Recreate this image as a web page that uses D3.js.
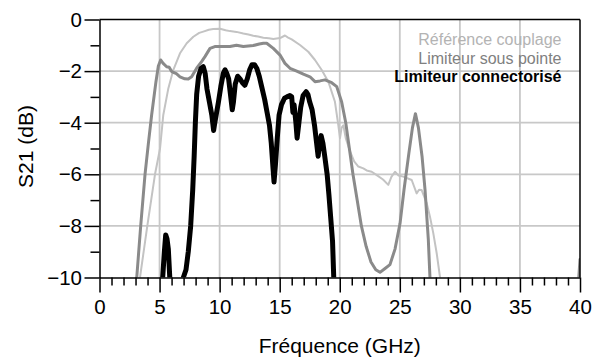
<!DOCTYPE html>
<html>
<head>
<meta charset="utf-8">
<script src="https://cdn.jsdelivr.net/npm/d3@7"></script>
<style>
  body { margin: 0; background: #fff; }
  svg { display: block; font-family: "Liberation Sans", Arial, sans-serif; }
</style>
</head>
<body>
<div id="chart"></div>
<script>
// tick values
let xMajor = [0, 5, 10, 15, 20, 25, 30, 35, 40];
let yMajor = [0, -2, -4, -6, -8, -10];
let legendLabels = ["Référence couplage", "Limiteur sous pointe", "Limiteur connectorisé"];

// [GHz, dB] ; null splits a trace
let refCouplage = [
  [3.37,-10],[3.98,-8],[4.62,-6],[5.04,-5],[5.31,-3.7],[5.73,-2.67],[6.14,-1.96],[6.7,-1.31],
  [7.26,-0.92],[7.81,-0.67],[8.3,-0.52],[8.64,-0.47],[9.1,-0.4],[9.47,-0.37],[10.03,-0.36],
  [10.5,-0.42],[10.86,-0.45],[11.4,-0.48],[11.97,-0.54],[12.4,-0.58],[12.8,-0.63],[13.2,-0.66],
  [13.64,-0.71],[14.1,-0.73],[14.47,-0.76],[15.03,-0.72],[15.44,-0.62],[15.7,-0.7],[16.0,-0.77],
  [16.69,-0.99],[17.38,-1.25],[17.94,-1.57],[18.5,-1.96],[19.05,-2.41],[19.6,-3.19],[19.88,-4.09],
  [20.02,-4.6],[20.15,-4.2],[20.3,-4.1],[20.5,-4.6],[20.85,-5.1],[21.2,-5.5],[21.55,-5.7],
  [21.96,-5.77],[22.24,-5.85],[22.66,-5.9],[23.08,-6.03],[23.6,-6.2],[24.04,-6.41],[24.3,-6.1],
  [24.6,-5.9],[24.9,-6.05],[25.29,-6.09],[25.99,-6.22],[26.4,-6.74],[26.6,-6.6],[26.82,-6.61],
  [27.24,-7.12],[27.51,-7.64],[27.79,-8.29],[28.07,-9.06],[28.35,-10]
];

let sousPointe = [
  [3.1,-10],[3.43,-8],[3.79,-6],[4.07,-4.8],[4.34,-3.7],[4.7,-2.41],[4.9,-1.8],[5.09,-1.57],
  [5.3,-1.7],[5.59,-1.83],[5.8,-1.85],[6.01,-2.02],[6.4,-2.1],[6.7,-2.22],[7.1,-2.3],[7.39,-2.31],
  [7.67,-2.22],[8.09,-1.89],[8.5,-1.63],[8.78,-1.44],[9.2,-1.12],[9.6,-1.05],[10.03,-1.05],
  [10.86,-1.05],[11.4,-1.0],[11.97,-1.05],[12.8,-1.01],[13.3,-0.95],[13.64,-0.92],[13.92,-0.92],
  [14.47,-1.12],[15.03,-1.38],[15.44,-1.7],[15.86,-1.89],[16.42,-2.0],[16.97,-2.12],[17.52,-2.22],
  [17.94,-2.41],[18.36,-2.38],[18.77,-2.34],[19.33,-2.45],[19.75,-2.6],[20.16,-3.2],[20.5,-4.0],
  [20.8,-5.0],[21.1,-6.0],[21.45,-7.0],[21.8,-8.0],[22.2,-8.8],[22.6,-9.4],[23.0,-9.7],
  [23.35,-9.8],[23.77,-9.65],[24.18,-9.5],[24.6,-8.9],[25.02,-7.9],[25.35,-6.6],[25.75,-5.2],
  [26.05,-4.2],[26.3,-3.65],[26.55,-4.2],[26.85,-5.3],[27.1,-6.6],[27.37,-8.5],[27.51,-10],
  null,
  [39.9,-10],[40,-9.3]
];

let connectorise = [
  [5.26,-10],[5.4,-9.0],[5.51,-8.35],[5.62,-8.5],[5.73,-8.9],[5.85,-10],
  null,
  [6.98,-10],[7.2,-9.7],[7.39,-9.0],[7.59,-8.0],[7.76,-6.6],[7.88,-5.3],[7.98,-4.0],[8.09,-2.9],
  [8.25,-2.2],[8.45,-1.9],[8.64,-1.83],[8.8,-2.1],[8.95,-2.7],[9.15,-3.2],[9.35,-3.7],[9.5,-4.3],
  [9.6,-4.0],[9.75,-3.6],[9.9,-3.2],[10.1,-2.6],[10.3,-2.1],[10.45,-1.95],[10.6,-2.1],[10.75,-2.3],
  [10.9,-2.9],[11.05,-3.5],[11.15,-3.2],[11.3,-2.5],[11.5,-2.2],[11.7,-2.3],[11.9,-2.45],
  [12.1,-2.55],[12.3,-2.3],[12.5,-1.95],[12.7,-1.75],[12.9,-1.75],[13.1,-1.9],[13.3,-2.2],
  [13.5,-2.6],[13.75,-3.1],[13.95,-3.6],[14.15,-4.1],[14.3,-4.8],[14.45,-5.8],[14.53,-6.3],
  [14.65,-5.6],[14.8,-4.6],[14.95,-3.7],[15.15,-3.3],[15.4,-3.05],[15.6,-3.0],[15.85,-2.95],
  [16.0,-3.0],[16.1,-3.6],[16.2,-3.3],[16.35,-4.0],[16.45,-4.6],[16.6,-4.0],[16.75,-3.4],
  [16.95,-2.95],[17.2,-2.8],[17.35,-2.9],[17.5,-3.2],[17.7,-3.5],[17.9,-4.1],[18.05,-4.7],
  [18.2,-5.3],[18.3,-4.9],[18.45,-4.5],[18.6,-4.8],[18.75,-5.3],[18.95,-6.0],[19.1,-6.8],
  [19.25,-7.7],[19.4,-8.6],[19.5,-10]
];

let seriesColors = ["#c3c3c3", "#8a8a8a", "#000000"];

function init() {
    let width = 592, height = 359;
    let left = 99.5, right = 580, top = 19.5, bottom = 277.5;

    let svg = d3.select("#chart").append("svg")
        .attr("width", width)
        .attr("height", height);

    let x = d3.scaleLinear().domain([0, 40]).range([left, right]);
    let y = d3.scaleLinear().domain([-10, 0]).range([bottom, top]);

    // grid
    svg.append("g").selectAll("line")
        .data(xMajor.filter(d => d > 0 && d < 40))
        .join("line")
        .attr("x1", d => x(d)).attr("x2", d => x(d))
        .attr("y1", top).attr("y2", bottom)
        .attr("stroke", "#c8c8c8").attr("stroke-width", 1.8);
    svg.append("g").selectAll("line")
        .data(yMajor.filter(d => d > -10 && d < 0))
        .join("line")
        .attr("x1", left).attr("x2", right)
        .attr("y1", d => y(d)).attr("y2", d => y(d))
        .attr("stroke", "#c8c8c8").attr("stroke-width", 1.8);

    // curves
    svg.append("clipPath").attr("id", "clip")
        .append("rect")
        .attr("x", left).attr("y", top - 2)
        .attr("width", right - left).attr("height", bottom - top + 2);

    let line = d3.line()
        .defined(d => d != null)
        .x(d => x(d[0]))
        .y(d => y(d[1]));

    let traces = [refCouplage, sousPointe, connectorise];
    let widths = [2, 3, 5];
    svg.append("g").attr("clip-path", "url(#clip)")
        .selectAll("path")
        .data(traces)
        .join("path")
        .attr("d", line)
        .attr("fill", "none")
        .attr("stroke", (_, i) => seriesColors[i])
        .attr("stroke-width", (_, i) => widths[i])
        .attr("stroke-linejoin", "round")
        .attr("stroke-linecap", "round");

    // frame top/right
    svg.append("line").attr("x1", left).attr("x2", right).attr("y1", top).attr("y2", top)
        .attr("stroke", "#000").attr("stroke-width", 1.5);
    svg.append("line").attr("x1", right).attr("x2", right).attr("y1", top).attr("y2", bottom)
        .attr("stroke", "#000").attr("stroke-width", 1.5);

    // minor ticks
    let xAxisMinor = d3.axisBottom(x).tickValues(d3.range(0, 41).filter(d => d % 5 != 0))
        .tickSize(8).tickFormat("");
    svg.append("g").attr("transform", `translate(0,${bottom})`).call(xAxisMinor)
        .call(g => g.select(".domain").remove())
        .selectAll("line").attr("stroke-width", 1.5);
    let yAxisMinor = d3.axisLeft(y).tickValues([-1, -3, -5, -7, -9])
        .tickSize(9).tickFormat("");
    svg.append("g").attr("transform", `translate(${left},0)`).call(yAxisMinor)
        .call(g => g.select(".domain").remove())
        .selectAll("line").attr("stroke-width", 1.5);

    // major axes
    let xAxis = d3.axisBottom(x).tickValues(xMajor).tickSize(15).tickPadding(6.5).tickSizeOuter(0);
    let gx = svg.append("g").attr("transform", `translate(0,${bottom})`).call(xAxis);
    gx.selectAll("text").attr("font-size", 20.5).attr("fill", "#000")
        .attr("font-family", "Liberation Sans, Arial, sans-serif");
    gx.selectAll("line").attr("stroke-width", 1.5);
    gx.select(".domain").attr("stroke-width", 1.5);

    let yAxis = d3.axisLeft(y).tickValues(yMajor).tickSize(15).tickPadding(2.5).tickSizeOuter(0);
    let gy = svg.append("g").attr("transform", `translate(${left},0)`).call(yAxis);
    gy.selectAll("text").attr("font-size", 20.5).attr("fill", "#000")
        .attr("font-family", "Liberation Sans, Arial, sans-serif");
    gy.selectAll("line").attr("stroke-width", 1.5);
    gy.select(".domain").attr("stroke-width", 1.5);

    // axis titles
    svg.append("text")
        .attr("x", (left + right) / 2).attr("y", 353)
        .attr("text-anchor", "middle")
        .attr("font-size", 21)
        .text("Fréquence (GHz)");
    svg.append("text")
        .attr("transform", `translate(33,${(top + bottom) / 2 - 2}) rotate(-90)`)
        .attr("text-anchor", "middle")
        .attr("font-size", 21)
        .text("S21 (dB)");

    // legend
    let legendY = [45, 64.3, 82.3];
    svg.append("g").selectAll("text")
        .data(legendLabels)
        .join("text")
        .attr("x", 561.5)
        .attr("y", (_, i) => legendY[i])
        .attr("text-anchor", "end")
        .attr("font-size", 16)
        .attr("font-weight", (_, i) => i == 2 ? "bold" : "normal")
        .attr("fill", (_, i) => ["#b3b3b3", "#808080", "#000"][i])
        .text(d => d);
}
window.onload = init;
</script>
</body>
</html>
